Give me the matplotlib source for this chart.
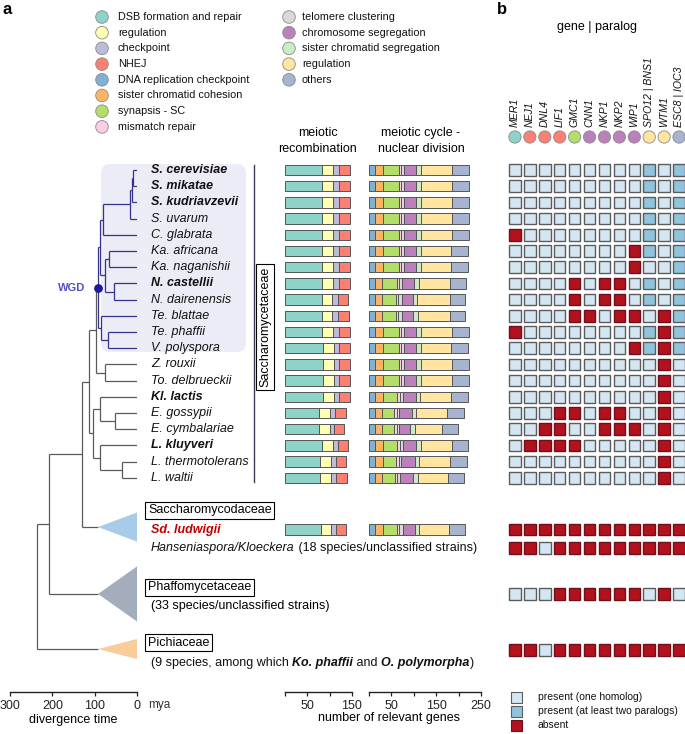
import matplotlib
matplotlib.use("Agg")
import matplotlib.pyplot as plt
import matplotlib.transforms as mtransforms
from matplotlib.patches import Rectangle, FancyBboxPatch, Polygon, Circle
import numpy as np

plt.rcParams['font.family'] = ['Liberation Sans', 'DejaVu Sans']

# ---------------- data ----------------
species = ['S. cerevisiae', 'S. mikatae', 'S. kudriavzevii', 'S. uvarum', 'C. glabrata',
           'Ka. africana', 'Ka. naganishii', 'N. castellii', 'N. dairenensis', 'Te. blattae',
           'Te. phaffii', 'V. polyspora', 'Z. rouxii', 'To. delbrueckii', 'Kl. lactis',
           'E. gossypii', 'E. cymbalariae', 'L. kluyveri', 'L. thermotolerans', 'L. waltii']
bold_species = ['S. cerevisiae', 'S. mikatae', 'S. kudriavzevii', 'N. castellii',
                'Kl. lactis', 'L. kluyveri']

recomb_cats = ['DSB formation and repair', 'regulation', 'checkpoint', 'NHEJ']
recomb_colors = ['#8dd3c7', '#ffffb3', '#bebada', '#fb8072']
cycle_cats = ['DNA replication checkpoint', 'sister chromatid cohesion', 'synapsis - SC',
              'mismatch repair', 'telomere clustering', 'chromosome segregation',
              'sister chromatid segregation', 'regulation', 'others']
cycle_colors = ['#80b1d3', '#fdb462', '#b3de69', '#fccde5', '#d9d9d9', '#bc80bd',
                '#ccebc5', '#ffe5a0', '#a6b4cf']

# gene counts per category (20 species, then Sd. ludwigii)
recomb_counts = [
    [83, 25, 12, 25], [83, 25, 12, 25], [83, 25, 12, 25], [83, 25, 12, 25], [83, 25, 12, 25],
    [83, 25, 12, 25], [83, 25, 12, 25], [83, 25, 12, 25], [82, 23, 13, 24], [82, 24, 12, 25],
    [83, 25, 12, 25], [84, 25, 12, 25], [84, 25, 12, 24], [84, 25, 12, 25], [84, 25, 12, 24],
    [76, 24, 12, 25], [76, 24, 10, 21], [83, 25, 11, 22], [78, 25, 12, 22], [78, 24, 12, 24],
    [80, 22, 13, 21]]
cycle_counts = [
    [14, 18, 34, 5, 7, 28, 11, 69, 37], [14, 18, 34, 5, 7, 28, 11, 69, 37],
    [14, 18, 34, 5, 7, 28, 11, 69, 37], [14, 18, 34, 5, 7, 28, 11, 69, 37],
    [14, 18, 34, 5, 7, 28, 11, 69, 37], [14, 18, 34, 5, 7, 28, 9, 69, 36],
    [14, 18, 34, 5, 7, 28, 9, 69, 36], [14, 16, 32, 5, 7, 26, 11, 69, 37],
    [14, 15, 31, 4, 9, 26, 9, 72, 35], [14, 15, 31, 4, 9, 26, 10, 71, 35],
    [14, 18, 34, 5, 7, 28, 11, 69, 37], [14, 18, 34, 5, 7, 28, 9, 69, 36],
    [14, 18, 34, 5, 7, 28, 11, 69, 37], [14, 18, 34, 5, 7, 28, 11, 69, 37],
    [14, 18, 31, 6, 6, 29, 10, 69, 37], [14, 16, 26, 6, 5, 30, 8, 69, 37],
    [14, 16, 26, 6, 5, 25, 10, 60, 37], [14, 18, 31, 6, 6, 31, 10, 69, 37],
    [14, 18, 28, 6, 6, 31, 9, 69, 37], [14, 14, 30, 5, 7, 28, 11, 67, 36],
    [13, 18, 31, 5, 8, 27, 9, 67, 37]]

genes = ['MER1', 'NEJ1', 'DNL4', 'LIF1', 'GMC1', 'CNN1', 'NKP1', 'NKP2', 'WIP1',
         'SPO12 | BNS1', 'WTM1', 'ESC8 | IOC3']
gene_colors = ['#8dd3c7', '#fb8072', '#fb8072', '#fb8072', '#b3de69', '#bc80bd', '#bc80bd',
               '#bc80bd', '#bc80bd', '#ffe5a0', '#ffe5a0', '#a6b4cf']
# 0 = one homolog, 1 = at least two paralogs, 2 = absent
presence = [
    [0, 0, 0, 0, 0, 0, 0, 0, 0, 1, 0, 1], [0, 0, 0, 0, 0, 0, 0, 0, 0, 1, 0, 1],
    [0, 0, 0, 0, 0, 0, 0, 0, 0, 1, 0, 1], [0, 0, 0, 0, 0, 0, 0, 0, 0, 1, 0, 1],
    [2, 0, 0, 0, 0, 0, 0, 0, 0, 1, 0, 1], [0, 0, 0, 0, 0, 0, 0, 0, 2, 1, 0, 1],
    [0, 0, 0, 0, 0, 0, 0, 0, 2, 0, 0, 1], [0, 0, 0, 0, 2, 0, 2, 2, 0, 1, 0, 1],
    [0, 0, 0, 0, 2, 0, 2, 2, 0, 1, 0, 1], [0, 0, 0, 0, 2, 2, 0, 2, 2, 0, 2, 1],
    [2, 0, 0, 0, 0, 0, 0, 0, 0, 1, 2, 1], [0, 0, 0, 0, 0, 0, 0, 0, 2, 1, 2, 1],
    [0, 0, 0, 0, 0, 0, 0, 0, 0, 0, 2, 0], [0, 0, 0, 0, 0, 0, 0, 0, 0, 0, 2, 0],
    [0, 0, 0, 0, 0, 0, 0, 0, 0, 0, 2, 0], [0, 0, 0, 2, 2, 0, 2, 2, 0, 0, 2, 0],
    [0, 0, 2, 2, 0, 0, 2, 2, 2, 0, 2, 0], [0, 2, 2, 2, 2, 0, 0, 0, 0, 0, 2, 0],
    [0, 0, 0, 0, 0, 0, 0, 0, 0, 0, 2, 0], [0, 0, 0, 0, 0, 0, 0, 0, 0, 0, 2, 0],
    [2, 2, 2, 2, 2, 2, 2, 2, 2, 2, 2, 2],   # Sd. ludwigii
    [2, 2, 0, 2, 2, 2, 2, 2, 2, 2, 2, 2],   # Hanseniaspora/Kloeckera
    [0, 0, 0, 2, 2, 2, 2, 2, 2, 0, 2, 0],   # Phaffomycetaceae
    [2, 2, 0, 2, 2, 2, 2, 2, 2, 2, 2, 2]]   # Pichiaceae
status_labels = ['present (one homolog)', 'present (at least two paralogs)', 'absent']
status_face = ['#d3e6f1', '#8fc4dc', '#b3121d']
status_edge = ['#5c5c5c', '#5c5c5c', '#6e0f1e']

# tree: node ages (mya) and children (ints = species rows)
node_age = {'ck': 9, 'ckk': 12, 'sac': 16, 'sacC': 80, 'ka': 66, 'nau': 54, 'kan': 76,
            'ab': 88, 'tpv': 68, 'te': 85, 'wgd': 93, 'zt': 76, 'wz': 98, 'ere': 52,
            'ke': 87, 'ltw': 35, 'lach': 87, 'kle': 104, 'scc': 113, 'sd': 130,
            'ph': 208, 'root': 236}
node_children = {'ck': [0, 1], 'ckk': ['ck', 2], 'sac': ['ckk', 3], 'sacC': ['sac', 4],
                 'ka': [5, 6], 'nau': [7, 8], 'kan': ['ka', 'nau'], 'ab': ['sacC', 'kan'],
                 'tpv': [10, 11], 'te': [9, 'tpv'], 'wgd': ['ab', 'te'], 'zt': [12, 13],
                 'wz': ['wgd', 'zt'], 'ere': [15, 16], 'ke': [14, 'ere'], 'ltw': [18, 19],
                 'lach': [17, 'ltw'], 'kle': ['ke', 'lach'], 'scc': ['wz', 'kle'],
                 'sd': ['scc', 'Sdc'], 'ph': ['sd', 'Pha'], 'root': ['ph', 'Pic']}
clade_stem_age = 92

# ---------------- layout ----------------
W, H = 685, 734
ROW0, ROW = 170, 16.2
TOP, BOT = 150, 692
clade_row = {'Sdc': 22.04, 'Pha': 26.17, 'Pic': 29.57}
clade_half = {'Sdc': 0.9, 'Pha': 1.7, 'Pic': 0.62}
clade_color = {'Sdc': '#a9cbea', 'Pha': '#a3adbb', 'Pic': '#f9cd9a'}
sd_row, hans_row, pha_row, pic_row = 22.2, 23.33, 26.17, 29.63

fig = plt.figure(figsize=(W / 100, H / 100), dpi=100)
ov = fig.add_axes([0, 0, 1, 1])
ov.set_xlim(0, W)
ov.set_ylim(H, 0)
ov.axis('off')


def row_axes(x0, x1):
    ax = fig.add_axes([x0 / W, 1 - BOT / H, (x1 - x0) / W, (BOT - TOP) / H])
    ax.set_ylim((BOT - ROW0) / ROW, (TOP - ROW0) / ROW)
    ax.patch.set_visible(False)
    ax.set_yticks([])
    for s in ['top', 'left', 'right']:
        ax.spines[s].set_visible(False)
    ax.spines['bottom'].set_linewidth(1.0)
    ax.spines['bottom'].set_color('#222222')
    ax.tick_params(axis='x', length=3, width=0.9, labelsize=9, pad=2.5, colors='#222222')
    return ax


# ---- tree ----
tax = row_axes(10, 137)
tax.set_xlim(300, 0)
tax.set_xticks([300, 200, 100, 0])
tax.set_xlabel('divergence time', fontsize=9, labelpad=2)

NAVY, GREY = '#33338c', '#5a5a5a'


def pos(n):
    if isinstance(n, int):
        return n, 0
    if n in clade_row:
        return clade_row[n], clade_stem_age
    ys = [pos(c)[0] for c in node_children[n]]
    return (min(ys) + max(ys)) / 2, node_age[n]


def draw(n, color):
    y, a = pos(n)
    if n == 'wgd':
        color = NAVY
    ys = []
    for c in node_children[n]:
        cy, ca = pos(c)
        ys.append(cy)
        tax.plot([a, ca], [cy, cy], color=color, lw=0.9, solid_capstyle='butt')
        if c in node_children:
            draw(c, color)
    tax.plot([a, a], [min(ys), max(ys)], color=color, lw=0.9, solid_capstyle='butt')


draw('root', GREY)
for k in clade_row:
    yc, h = clade_row[k], clade_half[k]
    tax.add_patch(Polygon([(clade_stem_age, yc), (0, yc - h), (0, yc + h)],
                          closed=True, fc=clade_color[k], ec='none', zorder=3))
wgd_y, wgd_a = pos('wgd')
tax.scatter([wgd_a], [wgd_y], s=28, color='#1a1a9a', zorder=5, clip_on=False)

# WGD shaded box and labels
ov.add_patch(FancyBboxPatch((101, 164), 145, 188, boxstyle='round,pad=0,rounding_size=9',
                            fc='#ececf7', ec='none', zorder=0))
bt = mtransforms.blended_transform_factory(ov.transData, tax.transData)
ov.text(72, wgd_y, 'WGD', transform=bt, ha='center', va='center', fontsize=8,
        fontweight='bold', color='#5050d0')
for i, name in enumerate(species):
    ov.text(151, i, name, transform=bt, ha='left', va='center', fontsize=9, style='italic',
            fontweight='bold' if name in bold_species else 'normal', color='#111111')
ov.plot([254, 254], [165, 482], color='#3a3a55', lw=1.0)
ov.text(265, 327, 'Saccharomycetaceae', rotation=90, ha='center', va='center', fontsize=9,
        bbox=dict(boxstyle='square,pad=0.25', fc='white', ec='black', lw=0.8))

renderer = fig.canvas.get_renderer()


def rich(x, y, parts, transform):
    for s, style in parts:
        t = ov.text(x, y, s, transform=transform, ha='left', va='center', fontsize=9,
                    color='#111111', **style)
        x += t.get_window_extent(renderer).width


box = dict(boxstyle='square,pad=0.2', fc='white', ec='black', lw=0.8)
ov.text(148, clade_row['Sdc'] - 1.05, 'Saccharomycodaceae', transform=bt, ha='left',
        va='center', fontsize=9, bbox=box)
ov.text(151, sd_row, 'Sd. ludwigii', transform=bt, ha='left', va='center', fontsize=9,
        style='italic', fontweight='bold', color='#c00000')
rich(151, hans_row, [('Hanseniaspora/Kloeckera', dict(style='italic')),
                     (' (18 species/unclassified strains)', {})], bt)
ov.text(148, pha_row - 0.42, 'Phaffomycetaceae', transform=bt, ha='left', va='center',
        fontsize=9, bbox=box)
ov.text(151, pha_row + 0.75, '(33 species/unclassified strains)', transform=bt, ha='left',
        va='center', fontsize=9)
ov.text(148, pic_row - 0.45, 'Pichiaceae', transform=bt, ha='left', va='center',
        fontsize=9, bbox=box)
rich(151, pic_row + 0.78, [('(9 species, among which ', {}),
                           ('Ko. phaffii', dict(style='italic', fontweight='bold')),
                           (' and ', {}),
                           ('O. polymorpha', dict(style='italic', fontweight='bold')),
                           (')', {})], bt)
ov.text(148, 705, 'mya', ha='left', va='center', fontsize=8.5, color='#333333')

# ---- bars ----
bar_rows = list(range(20)) + [sd_row]
rax = row_axes(285, 352)
rax.set_xlim(0, 150)
rax.set_xticks([0, 50, 100, 150])
rax.set_xticklabels(['', '50', '', '150'])
rc = np.array(recomb_counts)
left = np.zeros(len(bar_rows))
for j, col in enumerate(recomb_colors):
    rax.barh(bar_rows, rc[:, j], left=left, height=0.64, color=col, edgecolor='#555555',
             lw=0.7)
    left += rc[:, j]

cax = row_axes(369, 481)
cax.set_xlim(0, 250)
cax.set_xticks([0, 50, 100, 150, 200, 250])
cax.set_xticklabels(['', '50', '', '150', '', '250'])
cc = np.array(cycle_counts)
left = np.zeros(len(bar_rows))
for j, col in enumerate(cycle_colors):
    cax.barh(bar_rows, cc[:, j], left=left, height=0.64, color=col, edgecolor='#555555',
             lw=0.7)
    left += cc[:, j]

ov.text(318, 141, 'meiotic\nrecombination', ha='center', va='center', fontsize=9,
        linespacing=1.45)
ov.text(421, 141, 'meiotic cycle -\nnuclear division', ha='center', va='center',
        fontsize=9, linespacing=1.45)
ov.text(389, 718, 'number of relevant genes', ha='center', va='center', fontsize=9)

# ---- presence grid ----
gax = row_axes(507.5, 686.5)
gax.set_xlim(-0.5, 11.5)
gax.axis('off')
grid_rows = list(range(20)) + [sd_row, hans_row, pha_row, pic_row]
for r, vals in zip(grid_rows, presence):
    for j, v in enumerate(vals):
        gax.add_patch(Rectangle((j - 0.385, r - 0.355), 0.77, 0.71, fc=status_face[v],
                                ec=status_edge[v], lw=1.0, clip_on=False))
gt = mtransforms.blended_transform_factory(gax.transData, ov.transData)
for j, (g, c) in enumerate(zip(genes, gene_colors)):
    ov.text(j, 127, g, transform=gt, rotation=90, ha='center', va='bottom', fontsize=7.6,
            style='italic', color='#111111')
ov.scatter(range(len(genes)), [137] * len(genes), s=78, c=gene_colors, edgecolors='#8a8a8a',
           linewidths=0.6, transform=gt, zorder=3)
ov.text(597, 27, 'gene | paralog', ha='center', va='center', fontsize=9)

# ---- legends ----
legend1 = recomb_cats + cycle_cats[:4]
legend1_colors = recomb_colors + cycle_colors[:4]
for i, (lab, col) in enumerate(zip(legend1, legend1_colors)):
    y = 17 + 15.7 * i
    ov.add_patch(Circle((102, y), 6.3, fc=col, ec='#8a8a8a', lw=0.6))
    ov.text(118, y, lab, ha='left', va='center', fontsize=7.8, color='#111111')
for i, (lab, col) in enumerate(zip(cycle_cats[4:], cycle_colors[4:])):
    y = 17 + 15.7 * i
    ov.add_patch(Circle((289, y), 6.3, fc=col, ec='#8a8a8a', lw=0.6))
    ov.text(302, y, lab, ha='left', va='center', fontsize=7.8, color='#111111')

for i, (lab, fc, ec) in enumerate(zip(status_labels, status_face, status_edge)):
    y = 697 + 14 * i
    ov.add_patch(Rectangle((511.5, y - 5.5), 11, 11, fc=fc, ec=ec, lw=0.8))
    ov.text(538, y, lab, ha='left', va='center', fontsize=7.5, color='#111111')

ov.text(3, 9, 'a', ha='left', va='center', fontsize=12, fontweight='bold')
ov.text(497, 9, 'b', ha='left', va='center', fontsize=12, fontweight='bold')

fig.savefig('out.png', dpi=100)
